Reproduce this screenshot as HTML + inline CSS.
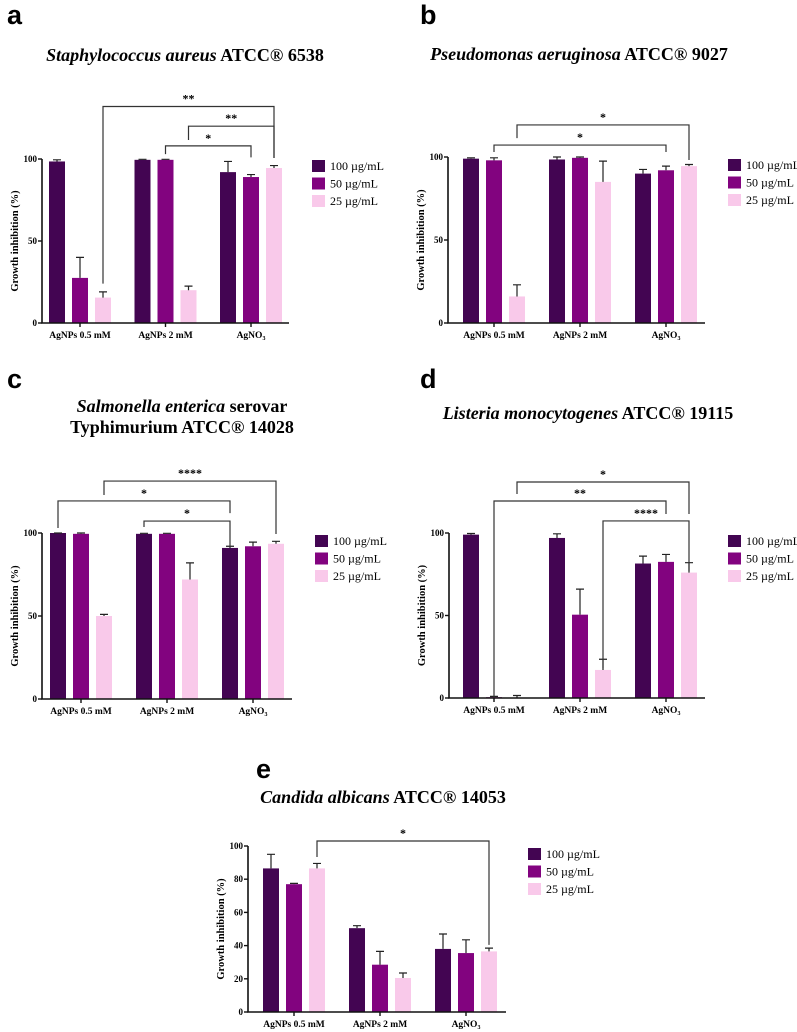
<!DOCTYPE html>
<html><head><meta charset="utf-8"><style>
body{margin:0;background:#fff}
svg{display:block}
.t{font-family:"Liberation Serif",serif;font-weight:bold}
</style></head><body>
<svg id="fig" width="797" height="1032" viewBox="0 0 797 1032" xmlns="http://www.w3.org/2000/svg">
<text class="t" x="185" y="61" font-size="18" text-anchor="middle"><tspan font-style="italic">Staphylococcus aureus</tspan> ATCC® 6538</text>
<text class="t" x="579" y="60" font-size="18" text-anchor="middle"><tspan font-style="italic">Pseudomonas aeruginosa</tspan> ATCC® 9027</text>
<text class="t" x="182" y="412" font-size="18" text-anchor="middle"><tspan font-style="italic">Salmonella enterica</tspan> serovar</text>
<text class="t" x="182" y="433" font-size="18" text-anchor="middle">Typhimurium ATCC® 14028</text>
<text class="t" x="588" y="419" font-size="18" text-anchor="middle"><tspan font-style="italic">Listeria monocytogenes</tspan> ATCC® 19115</text>
<text class="t" x="383" y="803" font-size="18" text-anchor="middle"><tspan font-style="italic">Candida albicans</tspan> ATCC® 14053</text>
<g font-family="Liberation Sans,sans-serif" font-weight="bold" font-size="27">
<text x="7" y="24">a</text>
<text x="420" y="24">b</text>
<text x="7" y="388">c</text>
<text x="420" y="388">d</text>
<text x="256" y="778">e</text>
</g>
</svg>
<script>
const categories = ["AgNPs 0.5 mM","AgNPs 2 mM","AgNO3"];
const seriesNames = ["100 µg/mL","50 µg/mL","25 µg/mL"];
const colors = ["#430552","#82037f","#f9c9ea"];
const valuesA = [[98.5,27.5,15.5],[99.5,99.5,20],[92,89,94.5]];
const errA    = [[99.5,40,19],[99.8,99.8,22.5],[98.5,90.5,96]];
const valuesB = [[99,98,16],[98.5,99.5,85],[90,92,94.5]];
const errB    = [[99.5,99.5,23],[100,100,97.5],[92.5,94.5,95.5]];
const valuesC = [[100,99.5,50],[99.5,99.5,72],[91,92,93.5]];
const errC    = [[100,100,51],[99.8,99.8,82],[92,94.5,95]];
const valuesD = [[99,0.5,0.3],[97,50.5,17],[81.5,82.5,76]];
const errD    = [[99.7,1,1.5],[99.5,66,23.5],[86,87,82]];
const valuesE = [[86.5,77,86.5],[50.5,28.5,20.5],[38,35.5,36.5]];
const errE    = [[95,77.5,89.5],[52,36.5,23.5],[47,43.5,38.5]];
const ticksABCD = [0,50,100];
const ticksE = [0,20,40,60,80,100];
const bracketsA = [[0,2,24,2,2,100.6,132,"**"],[1,2,111.6,2,2,100.6,120,"**"],[1,1,103,2,1,101,108,"*"]];
const bracketsB = [[0,2,111.4,2,2,98.2,119.3,"*"],[0,1,103,2,1,103,107.2,"*"]];
const bracketsC = [[0,2,122.9,2,2,99.4,131.3,"****"],[0,0,103,2,0,112,119.3,"*"],[1,0,103.6,2,0,91.6,107.2,"*"]];
const bracketsD = [[0,2,123.6,2,2,111.5,130.9,"*"],[0,1,0.6,2,1,111.5,119.4,"**"],[1,2,18.2,2,2,77,107.3,"****"]];
const bracketsE = [[0,2,93.4,2,2,40.4,103,"*"]];

const panels = [
 {id:"a",ax:42,y0:323,y100:159,b0:49,gs:85.5,xe:289,lx:312,ly:160,v:valuesA,e:errA,ticks:ticksABCD,br:bracketsA},
 {id:"b",ax:448,y0:323,y100:157,b0:463,gs:86,xe:705,lx:728,ly:159,v:valuesB,e:errB,ticks:ticksABCD,br:bracketsB},
 {id:"c",ax:42,y0:699,y100:533,b0:50,gs:86,xe:292,lx:315,ly:535,v:valuesC,e:errC,ticks:ticksABCD,br:bracketsC},
 {id:"d",ax:449,y0:698,y100:533,b0:463,gs:86,xe:705,lx:728,ly:535,v:valuesD,e:errD,ticks:ticksABCD,br:bracketsD},
 {id:"e",ax:248,y0:1012,y100:846,b0:263,gs:86,xe:506,lx:528,ly:848,v:valuesE,e:errE,ticks:ticksE,br:bracketsE}
];
const NS="http://www.w3.org/2000/svg", svg=document.getElementById("fig");
function mk(tag,at,parent){const el=document.createElementNS(NS,tag);for(const k in at)el.setAttribute(k,at[k]);(parent||svg).appendChild(el);return el;}
const BW=16, STEP=23;
panels.forEach(p=>{
  const g=mk("g",{});
  
  
  const Y=v=>p.y0-(v/100)*(p.y0-p.y100);
  const X=(gi,si)=>p.b0+gi*p.gs+si*STEP;
  const cx=(gi,si)=>X(gi,si)+BW/2;
  p.v.forEach((grp,gi)=>grp.forEach((val,si)=>{
    const r=mk("rect",{x:X(gi,si),y:Y(val),width:BW,height:p.y0-Y(val),fill:colors[si]},g);
    
    
    const top=Y(p.e[gi][si]);
    const l=mk("path",{d:`M${cx(gi,si)} ${Y(val)}V${top}M${cx(gi,si)-4} ${top}H${cx(gi,si)+4}`,stroke:"#222","stroke-width":1.2,fill:"none"},g);
    
    
  }));
  const ymax=p.ticks[p.ticks.length-1];
  const ax=mk("path",{d:`M${p.ax} ${Y(ymax)}V${p.y0}H${p.xe}`,stroke:"#111","stroke-width":1.6,fill:"none"},g);
  
  
  p.ticks.forEach(t=>{
    mk("line",{x1:p.ax-4,x2:p.ax,y1:Y(t),y2:Y(t),stroke:"#111","stroke-width":1.4},g);
    const tl=mk("text",{x:p.ax-5,y:Y(t)+3,"font-size":9,"text-anchor":"end",class:"t"},g);
    tl.textContent=t;
    
    
  });
  const yt=mk("text",{x:0,y:0,"font-size":10.5,"text-anchor":"middle",class:"t",transform:`translate(${p.ax-24},${(Y(ymax)+p.y0)/2}) rotate(-90)`},g);
  yt.textContent="Growth inhibition (%)";
  
  
  categories.forEach((c,gi)=>{
    const x=cx(gi,1);
    mk("line",{x1:x,x2:x,y1:p.y0,y2:p.y0+4,stroke:"#111","stroke-width":1.4},g);
    const t=mk("text",{x:x,y:p.y0+15,"font-size":9.5,"text-anchor":"middle",class:"t"},g);
    if(c==="AgNO3"){t.textContent="AgNO";const s=mk("tspan",{"font-size":6,dy:2},t);s.textContent="3";}
    else t.textContent=c;
    
    
  });
  seriesNames.forEach((n,si)=>{
    const y=p.ly+si*17.5;
    const sq=mk("rect",{x:p.lx,y:y,width:13,height:12,fill:colors[si]},g);
    
    
    const t=mk("text",{x:p.lx+18,y:y+10,"font-size":12,"font-family":"Liberation Serif,serif"},g);
    t.textContent=n;
    
    
  });
  p.br.forEach(b=>{
    const x1=cx(b[0],b[1]), x2=cx(b[3],b[4]), yl=Y(b[6]);
    const path=mk("path",{d:`M${x1} ${Y(b[2])}V${yl}H${x2}V${Y(b[5])}`,stroke:"#333","stroke-width":1.2,fill:"none"},g);
    
    
    const s=mk("text",{x:(x1+x2)/2,y:yl-4,"font-size":12,"text-anchor":"middle",class:"t"},g);
    s.textContent=b[7];
    
    
  });
});
</script>
</body></html>
